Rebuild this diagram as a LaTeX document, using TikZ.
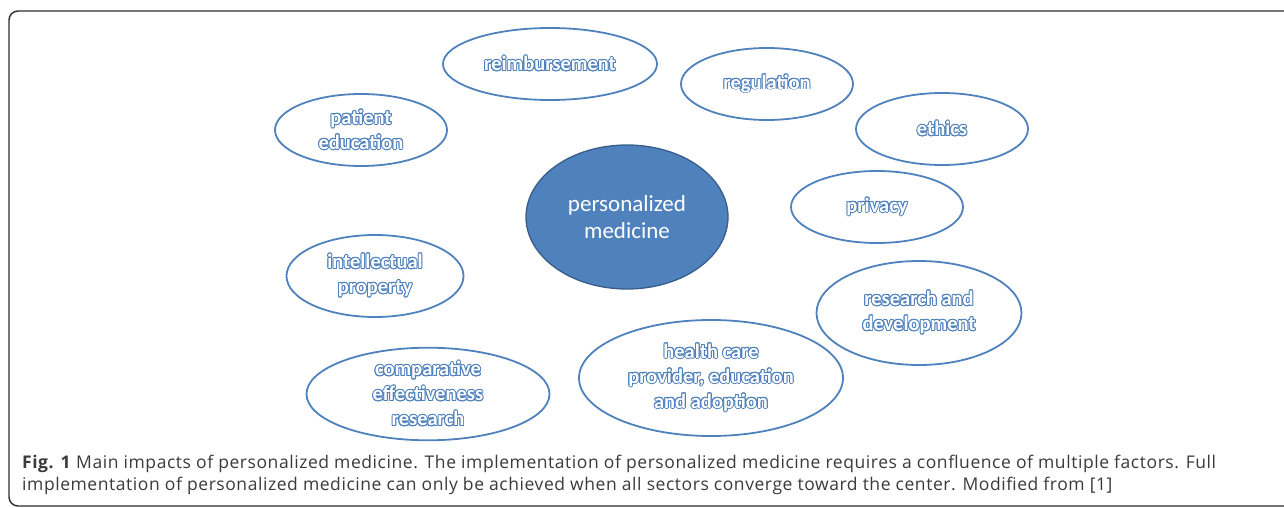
\documentclass[tikz,border=0pt]{standalone}
\usepackage{fontspec}
\setmainfont{Carlito}
\newfontfamily\capfont[LetterSpace=3.2]{Open Sans}
\usepackage{contour}
\contourlength{0.9pt}
\usetikzlibrary{shapes.geometric}

\definecolor{ringblue}{HTML}{4F81BD}
\definecolor{hubfill}{HTML}{4F81BD}
\definecolor{hubedge}{HTML}{385D8A}
\definecolor{captext}{HTML}{3A3A3A}
\definecolor{framegray}{HTML}{2B2B2B}

% outlined lettering: blue rim, white face
\newcommand{\rim}[1]{\contour{ringblue}{\textcolor{white}{#1}}}

\tikzset{
  factor/.style={ellipse, draw=ringblue, line width=1.8pt, inner sep=0pt,
    align=center, font=\fontsize{20.5}{25}\selectfont\bfseries},
  hub/.style={ellipse, draw=hubedge, fill=hubfill, line width=1.3pt, inner sep=0pt,
    align=center, text=white, font=\fontsize{23}{27}\selectfont},
  caption/.style={anchor=base west, inner sep=0pt, text=captext,
    font=\capfont\fontsize{17.5}{22}\selectfont}
}

\begin{document}
\begin{tikzpicture}[x=1pt, y=-1pt]
  \useasboundingbox (0,0) rectangle (1284,508);

  % panel frame, open to the right and bottom edges
  \begin{scope}
    \clip (0,0) rectangle (1284,508);
    \draw[framegray, line width=1.4pt, rounded corners=9pt]
      (1300,11) -- (9,11) -- (9,506) -- (1300,506);
  \end{scope}

  % central hub
  \node[hub, minimum width=202pt, minimum height=144pt] (hub) at (627,217)
    {personalized\\medicine};

  % surrounding factors
  \node[factor, minimum width=214pt, minimum height=72pt] (reimb) at (550,64)
    {\rim{reimbursement}};
  \node[factor, minimum width=172pt, minimum height=72pt] (patient) at (361,130)
    {\rim{patient}\\\rim{education}};
  \node[factor, minimum width=172pt, minimum height=72pt] (regul) at (767,84)
    {\rim{regulation}};
  \node[factor, minimum width=172pt, minimum height=72pt] (ethics) at (942,129)
    {\rim{ethics}};
  \node[factor, minimum width=172pt, minimum height=72pt] (privacy) at (877,207)
    {\rim{privacy}};
  \node[factor, minimum width=177pt, minimum height=82pt] (intprop) at (375,276)
    {\rim{intellectual}\\\rim{property}};
  \node[factor, minimum width=205pt, minimum height=104pt] (rnd) at (919,313)
    {\rim{research and}\\\rim{development}};
  \node[factor, minimum width=264pt, minimum height=116pt] (hcp) at (711,378)
    {\rim{health care}\\\rim{provider, education}\\\rim{and adoption}};
  \node[factor, minimum width=243pt, minimum height=84pt] (cer) at (428,394)
    {\rim{comparative}\\\rim{effectiveness}\\\rim{research}};

  % figure caption
  \node[caption] (cap1) at (22,468)
    {\textbf{Fig. 1} Main impacts of personalized medicine. The implementation of personalized medicine requires a confluence of multiple factors. Full};
  \node[caption] (cap2) at (22,490)
    {implementation of personalized medicine can only be achieved when all sectors converge toward the center. Modified from [1]};
\end{tikzpicture}
\end{document}
